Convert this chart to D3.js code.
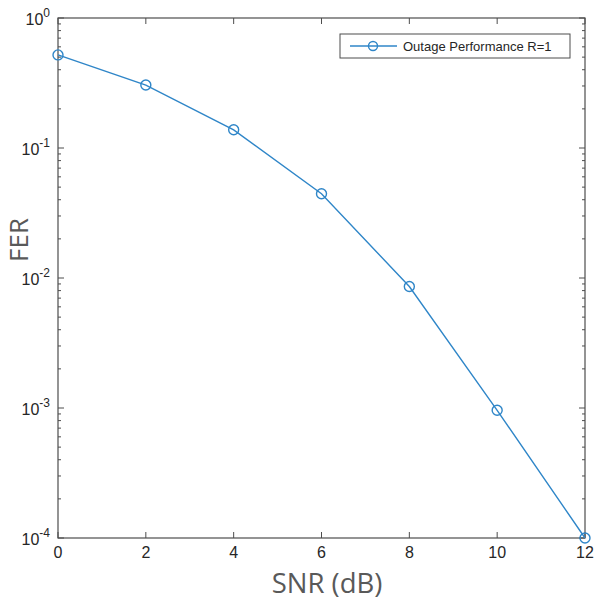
<!DOCTYPE html>
<html>
<head>
<meta charset="utf-8">
<script src="https://cdn.jsdelivr.net/npm/d3@7/dist/d3.min.js"></script>
<style>
  html, body { margin: 0; padding: 0; background: #fff; }
  svg { display: block; }
</style>
</head>
<body>
<svg id="chart" width="596" height="605"></svg>
<script>
// SNR points (dB) and frame error rate for the outage bound
const snr = [0, 2, 4, 6, 8, 10, 12];
const fer = [0.52, 0.305, 0.138, 0.0445, 0.0086, 0.00096, 0.0001];
const xTicks = [0, 2, 4, 6, 8, 10, 12];
const yExponents = [0, -1, -2, -3, -4];
const seriesName = "Outage Performance R=1";
const xTitle = "SNR (dB)";
const yTitle = "FER";

const svg = d3.select("#chart");
const m = { left: 58, right: 585, top: 18, bottom: 538 };
const axisColor = "#4d4d4d";
const lineColor = "#2f86c8";

const x = d3.scaleLinear().domain([0, 12]).range([m.left, m.right]);
const y = d3.scaleLog().domain([1e-4, 1]).range([m.bottom, m.top]);

// Minor ticks for each decade (2..9 × 10^k)
const minor = [];
for (let k = -4; k < 0; k++) for (let j = 2; j <= 9; j++) minor.push(j * Math.pow(10, k));

const g = svg.append("g");

// Plot frame
g.append("rect")
  .attr("x", m.left).attr("y", m.top)
  .attr("width", m.right - m.left).attr("height", m.bottom - m.top)
  .attr("fill", "none").attr("stroke", axisColor).attr("stroke-width", 1.2);

// X ticks (bottom and top, pointing inward)
xTicks.forEach(t => {
  const px = x(t);
  g.append("line").attr("x1", px).attr("x2", px).attr("y1", m.bottom).attr("y2", m.bottom - 6)
    .attr("stroke", axisColor);
  g.append("line").attr("x1", px).attr("x2", px).attr("y1", m.top).attr("y2", m.top + 6)
    .attr("stroke", axisColor);
  g.append("text").attr("x", px).attr("y", 558)
    .attr("text-anchor", "middle")
    .attr("font-family", "Liberation Sans, Arial, sans-serif")
    .attr("font-size", 16).attr("fill", "#262626")
    .text(t);
});

// Y major ticks and power-of-ten labels
yExponents.forEach(e => {
  const py = y(Math.pow(10, e));
  g.append("line").attr("x1", m.left).attr("x2", m.left + 6).attr("y1", py).attr("y2", py)
    .attr("stroke", axisColor);
  g.append("line").attr("x1", m.right).attr("x2", m.right - 6).attr("y1", py).attr("y2", py)
    .attr("stroke", axisColor);
  const txt = g.append("text").attr("x", 50).attr("y", py + 7)
    .attr("text-anchor", "end")
    .attr("font-family", "Liberation Sans, Arial, sans-serif")
    .attr("font-size", 16).attr("fill", "#262626");
  txt.append("tspan").text("10");
  txt.append("tspan").attr("dy", -8).attr("font-size", 12).text(e);
});

// Y minor ticks
minor.forEach(v => {
  const py = y(v);
  g.append("line").attr("x1", m.left).attr("x2", m.left + 3).attr("y1", py).attr("y2", py)
    .attr("stroke", axisColor);
  g.append("line").attr("x1", m.right).attr("x2", m.right - 3).attr("y1", py).attr("y2", py)
    .attr("stroke", axisColor);
});

// Axis titles
svg.append("text").attr("x", 327).attr("y", 593)
  .attr("text-anchor", "middle")
  .attr("font-family", "Open Sans, Noto Sans, sans-serif")
  .attr("font-size", 27.5).attr("fill", "#595959")
  .text(xTitle);
svg.append("text")
  .attr("transform", "translate(28,240) rotate(-90)")
  .attr("text-anchor", "middle")
  .attr("font-family", "Open Sans, Noto Sans, sans-serif")
  .attr("font-size", 26).attr("fill", "#595959")
  .text(yTitle);

// Series line and circle markers
const pts = snr.map((s, i) => [s, fer[i]]);
const line = d3.line().x(d => x(d[0])).y(d => y(d[1]));
g.append("path").datum(pts)
  .attr("d", line).attr("fill", "none")
  .attr("stroke", lineColor).attr("stroke-width", 1.4);
g.selectAll("circle.pt").data(pts).enter().append("circle")
  .attr("class", "pt")
  .attr("cx", d => x(d[0])).attr("cy", d => y(d[1])).attr("r", 5)
  .attr("fill", "none").attr("stroke", lineColor).attr("stroke-width", 1.4);

// Legend
const lg = svg.append("g");
lg.append("rect").attr("x", 340).attr("y", 34).attr("width", 230).attr("height", 24)
  .attr("fill", "#fff").attr("stroke", axisColor).attr("stroke-width", 1);
lg.append("line").attr("x1", 350).attr("x2", 397).attr("y1", 46).attr("y2", 46)
  .attr("stroke", lineColor).attr("stroke-width", 1.4);
lg.append("circle").attr("cx", 373).attr("cy", 46).attr("r", 4.5)
  .attr("fill", "none").attr("stroke", lineColor).attr("stroke-width", 1.4);
lg.append("text").attr("x", 403).attr("y", 51)
  .attr("font-family", "Liberation Sans, Arial, sans-serif")
  .attr("font-size", 13).attr("fill", "#262626")
  .text(seriesName);
</script>
</body>
</html>
